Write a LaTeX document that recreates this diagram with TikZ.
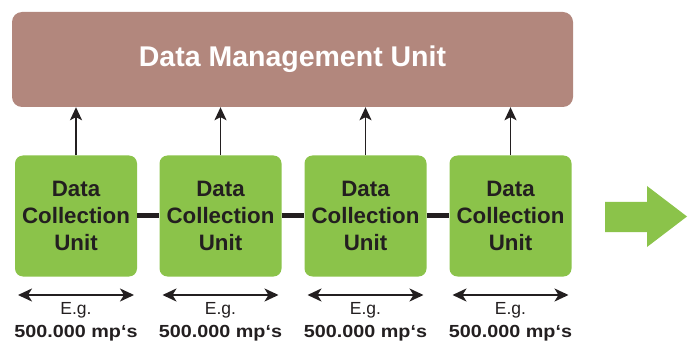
\documentclass[tikz,border=0pt]{standalone}
\usepackage{fontspec}
\setmainfont{Liberation Sans}
\usetikzlibrary{arrows.meta}
\definecolor{dmucol}{HTML}{B2877D}
\definecolor{dcucol}{HTML}{8BC34A}
\definecolor{txtcol}{HTML}{231F20}
\tikzset{
  dmubox/.style={draw=none, fill=dmucol, rounded corners=10pt, minimum width=561pt, minimum height=95pt, inner sep=0pt,
    text=white, font=\fontsize{28.5}{32}\selectfont\bfseries},
  dcubox/.style={draw=none, fill=dcucol, rounded corners=8pt, minimum width=122pt, minimum height=121pt, inner sep=0pt,
    text=txtcol, align=center, font=\fontsize{22.3}{27}\selectfont\bfseries},
  uparrow/.style={draw=txtcol, line width=1.6pt, -{Stealth[length=13pt,width=12pt,inset=3pt]}},
  link/.style={draw=txtcol, line width=5pt},
  span/.style={draw=txtcol, line width=2pt, {Stealth[length=14pt,width=13pt,inset=4pt]}-{Stealth[length=14pt,width=13pt,inset=4pt]}},
  egtext/.style={text=txtcol, inner sep=0pt, font=\fontsize{17.5}{20}\selectfont},
  mptext/.style={text=txtcol, inner sep=0pt, font=\fontsize{17.5}{20}\selectfont\bfseries},
}
\begin{document}
\begin{tikzpicture}[x=1pt,y=-1pt]
\useasboundingbox (0,0) rectangle (694,342);
\node[dmubox] (dmu) at (292.5,59.5) {Data Management Unit};
\foreach \i/\x in {1/76,2/220.5,3/365.5,4/510.5}{
  \node[dcubox] (dcu\i) at (\x,216) {Data\\Collection\\Unit};
  \draw[uparrow] (dcu\i.north) -- (dcu\i.north |- dmu.south);
  \coordinate (sl\i) at (\x-58,295);
  \coordinate (sr\i) at (\x+58,295);
  \draw[span] (sl\i) -- (sr\i);
  \node[egtext] (eg\i) at (\x,310) {E.g.};
  \node[mptext, xscale=1.13, transform shape] (mp\i) at (\x,333) {500.000 mp‘s};
}
\draw[link] (dcu1.east) -- (dcu2.west);
\draw[link] (dcu2.east) -- (dcu3.west);
\draw[link] (dcu3.east) -- (dcu4.west);
\fill[dcucol] (605,202) -- (647,202) -- (647,186) -- (687,216.5) -- (647,247) -- (647,232) -- (605,232) -- cycle;
\end{tikzpicture}
\end{document}
